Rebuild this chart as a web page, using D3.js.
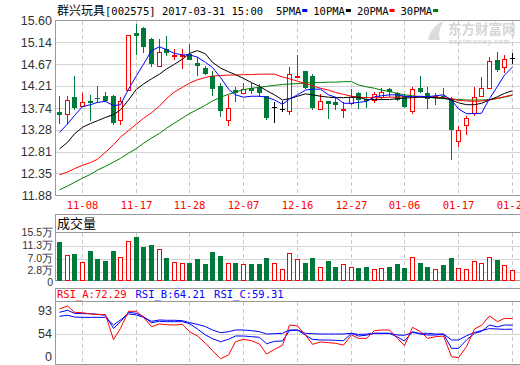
<!DOCTYPE html>
<html>
<head>
<meta charset="utf-8">
<script src="https://cdn.jsdelivr.net/npm/d3@7"></script>
<style>
  body { margin: 0; background: #fff; }
  svg { display: block; }
</style>
</head>
<body>
<div class="chart"></div>
<script>
// trading days shown (60 candles)
const dates = ["11-03","11-04","11-07","11-08","11-09","11-10","11-11","11-14","11-15","11-16",
  "11-17","11-18","11-21","11-22","11-23","11-24","11-25","11-28","11-29","11-30",
  "12-01","12-02","12-05","12-06","12-07","12-08","12-09","12-12","12-13","12-14",
  "12-15","12-16","12-19","12-20","12-21","12-22","12-23","12-26","12-27","12-28",
  "12-29","12-30","01-03","01-04","01-05","01-06","01-09","01-10","01-11","01-12",
  "01-13","01-16","01-17","01-18","01-19","01-20","01-23","01-24","01-25","01-26"];

const opens = [13.65,13.61,13.97,13.78,13.89,13.95,14.00,14.00,13.49,14.13,15.33,15.45,15.21,14.64,14.99,14.85,14.84,14.89,14.69,14.59,
  14.43,14.20,13.49,14.12,14.06,14.16,14.18,13.99,13.77,13.72,13.68,14.39,14.52,14.43,13.72,13.88,13.86,13.71,13.84,14.05,
  13.94,13.91,13.97,14.14,14.05,13.99,13.68,14.16,14.05,13.97,14.00,13.93,13.03,13.38,13.63,14.00,14.16,14.75,14.62,14.80];
const highs = [14.00,13.99,14.41,14.05,14.02,14.21,14.09,14.01,13.97,15.30,15.52,15.46,15.23,15.21,15.26,14.99,14.99,15.11,14.82,14.64,
  14.53,14.27,14.02,14.18,14.28,14.28,14.25,13.99,13.86,13.89,14.62,14.87,14.52,14.46,14.04,13.89,13.97,13.86,14.14,14.07,
  14.07,14.09,14.16,14.16,14.09,14.04,14.18,14.41,14.18,14.05,14.16,13.97,13.36,13.58,14.18,14.39,14.83,14.94,14.87,14.90];
const lows = [13.40,13.41,13.70,13.77,13.47,13.84,13.86,13.38,13.38,14.12,14.87,14.91,14.62,14.62,14.85,14.76,14.57,14.75,14.41,14.45,
  14.00,13.54,13.35,13.86,14.06,14.04,13.97,13.48,13.42,13.65,13.59,14.37,14.14,13.70,13.72,13.51,13.70,13.53,13.81,13.72,
  13.74,13.84,13.92,13.97,13.89,13.75,13.61,14.05,13.72,13.81,13.93,12.63,12.92,13.17,13.58,13.97,14.14,14.50,14.48,14.67];
const closes = [13.59,13.90,13.75,13.87,13.85,13.93,13.89,13.43,13.89,15.30,15.28,15.03,14.67,14.94,14.91,14.87,14.87,14.75,14.63,14.46,
  14.14,13.67,13.75,14.06,14.14,14.11,14.06,13.53,13.77,13.72,14.46,14.43,14.16,13.75,13.88,13.82,13.80,13.72,13.98,13.91,
  13.89,14.04,14.07,14.09,13.91,13.77,14.14,14.09,13.93,13.99,13.97,13.27,13.28,13.52,13.98,14.16,14.73,14.55,14.79,14.80];

// volume in 万 (10k)
const volumes = [12.4,8.1,8.6,5.9,9.4,6.8,6.2,9.4,7.7,12.9,14.0,10.7,11.5,10.3,7.2,5.9,5.5,5.6,6.8,5.2,
  9.1,7.8,5.8,5.6,5.2,5.2,5.2,7.2,5.5,3.8,8.8,6.8,5.5,7.2,4.5,6.3,4.2,5.2,4.2,3.9,
  4.2,3.6,4.1,4.2,5.2,3.9,7.7,5.8,4.2,3.8,4.9,7.4,4.1,3.8,6.4,5.8,7.7,6.5,5.1,3.5];

const ma5 = [13.22,13.40,13.58,13.77,13.81,13.86,13.88,13.79,13.81,14.14,14.43,14.67,14.96,15.04,14.98,14.90,14.87,14.87,14.82,14.71,
  14.60,14.39,14.14,14.02,13.97,13.99,13.99,13.97,13.91,13.82,13.93,14.02,14.12,14.14,14.14,14.02,13.97,13.84,13.84,13.86,
  13.88,13.98,14.00,14.02,14.02,13.99,13.98,13.99,13.98,14.00,14.02,13.91,13.72,13.62,13.62,13.63,13.94,14.20,14.44,14.61];
const ma10 = [12.87,13.01,13.19,13.33,13.41,13.47,13.54,13.60,13.70,13.91,14.14,14.25,14.36,14.46,14.57,14.67,14.78,14.90,14.96,14.89,
  14.71,14.59,14.51,14.45,14.37,14.28,14.20,14.11,14.02,13.91,13.94,13.99,14.04,14.02,13.99,13.97,13.96,13.96,13.97,13.97,
  13.92,13.92,13.92,13.92,13.94,13.95,13.96,13.97,13.97,13.96,13.95,13.91,13.85,13.81,13.81,13.84,13.91,13.98,14.05,14.11];
const ma20 = [12.32,12.38,12.45,12.52,12.58,12.65,12.80,12.96,13.12,13.26,13.40,13.52,13.64,13.78,13.94,14.08,14.18,14.27,14.34,14.39,
  14.42,14.43,14.44,14.44,14.45,14.45,14.46,14.46,14.46,14.40,14.36,14.31,14.26,14.21,14.16,14.12,14.07,14.03,13.99,13.97,
  13.96,13.96,13.96,13.97,13.97,13.98,13.98,13.98,13.97,13.97,13.96,13.94,13.90,13.89,13.88,13.89,13.91,13.95,13.98,14.02];
const ma30 = [12.00,12.08,12.16,12.25,12.33,12.42,12.50,12.59,12.67,12.78,12.88,12.99,13.10,13.20,13.31,13.42,13.53,13.62,13.71,13.80,
  13.89,13.97,14.03,14.08,14.13,14.16,14.18,14.20,14.22,14.24,14.25,14.26,14.27,14.28,14.28,14.29,14.29,14.30,14.30,14.23,
  14.19,14.16,14.12,14.09,14.05,14.02,14.00,13.98,13.97,13.95,13.94,13.93,13.92,13.91,13.91,13.91,13.92,13.94,13.97,14.01];

const rsiA = [84.1,87.7,80.0,79.5,77.9,77.5,77.1,43.0,60.3,81.2,81.2,73.8,62.4,65.7,64.8,64.4,65.2,56.2,49.6,36.6,
  23.6,9.4,15.9,39.5,43.6,41.3,35.4,17.6,26.0,33.0,64.4,63.2,51.3,34.8,39.0,37.8,36.6,33.6,51.3,45.4,
  45.4,57.5,58.3,58.3,45.4,32.4,61.6,56.2,45.4,48.4,49.6,13.0,11.2,30.7,59.5,64.0,75.5,68.5,72.6,72.29];
const rsiB = [80.0,82.5,78.7,78.3,78.3,77.5,76.3,60.3,68.5,80.0,78.7,74.6,67.3,68.9,68.5,68.5,68.5,66.1,59.5,51.3,
  44.8,39.5,43.6,49.6,49.6,48.4,47.2,35.9,40.1,40.7,57.5,58.3,51.0,43.6,42.5,42.5,41.9,41.3,54.2,49.5,
  51.0,54.2,54.2,54.2,47.7,40.7,56.2,53.0,51.3,51.3,53.0,27.7,27.7,42.5,54.2,56.6,64.4,62.1,64.4,64.21];
const rsiC = [75.1,76.4,74.2,73.8,73.8,73.8,73.8,64.4,70.6,78.0,76.7,73.8,68.9,70.6,70.2,70.2,69.7,67.3,65.2,62.4,
  58.3,55.0,56.2,58.3,58.3,57.5,56.2,53.1,53.7,54.2,58.3,58.3,54.2,53.7,53.1,53.1,53.1,53.1,54.2,52.4,
  53.0,54.2,54.2,54.2,51.3,50.8,55.2,54.2,54.2,53.1,53.0,42.5,42.5,50.0,55.2,57.6,60.0,59.5,59.1,59.31];

const priceTicks = [11.88, 12.35, 12.81, 13.28, 13.74, 14.21, 14.67, 15.14, 15.60];
const volTicks = [0, 2.8, 7.0, 11.3, 15.5];
const rsiTicks = [0, 54, 93];
const dateTicks = ["11-08","11-17","11-28","12-07","12-16","12-27","01-06","01-17","01-26"];
const maNames = ["5PMA", "10PMA", "20PMA", "30PMA"];

const W = 520, H = 365;
const RED = "#ff0000", GREEN = "#007a3a", GRID = "#d4d4d4", BORDER = "#9a9a9a";
const mono = "'DejaVu Sans Mono', 'Liberation Mono', monospace";
const cjk = "'Noto Sans CJK SC', 'Noto Sans', sans-serif";
const axisFont = "'Liberation Sans', Arial, sans-serif";

const svg = d3.select(".chart").append("svg")
    .attr("width", W).attr("height", H)
    .attr("viewBox", [0, 0, W, H]);

const idx = d3.range(dates.length);
const x = d3.scaleBand().domain(idx).range([55, 515.8]).paddingInner(0.3).paddingOuter(0.15);
const xc = i => Math.round(x(i) + x.bandwidth() / 2);

// panel geometry
const main = {top: 20.5, bottom: 195.5};
const vol = {top: 214.5, head: 232.5, bottom: 280.5};
const rsi = {top: 288.5, head: 301.5, bottom: 364.5};
const left = 55.5, right = 530;

const y = d3.scaleLinear().domain([11.88, 15.60]).range([main.bottom, main.top]);
const yv = d3.scaleLinear().domain([0, 15.5]).range([vol.bottom, vol.head]);
const yr = d3.scaleLinear().domain([0, 54, 93]).range([364, 333.5, 301.7]);
const py = v => Math.round(y(v)) + 0.5;

const tickIdx = dateTicks.map(d => dates.indexOf(d));

// ---- header
const title = svg.append("text").attr("x", 57).attr("y", 14.5).attr("fill", "#000");
title.append("tspan").attr("font-family", cjk).attr("font-size", 12).text("群兴玩具");
title.append("tspan").attr("font-family", mono).attr("font-size", 10.5).text("[002575] 2017-03-31 15:00");

const maColors = ["#0000ff", "#000000", RED, "#008000"];
let lx = 276;
maNames.forEach((n, k) => {
  const t = svg.append("text").attr("x", lx).attr("y", 14.5)
      .attr("font-family", mono).attr("font-size", 10.5).attr("fill", "#000").text(n);
  const w = t.node().getComputedTextLength();
  svg.append("rect").attr("x", lx + w + 1).attr("y", 9).attr("width", 5).attr("height", 3)
      .attr("fill", maColors[k]);
  lx += w + 12;
});

// watermark
svg.append("text").attr("x", 448).attr("y", 33.5).attr("font-family", cjk).attr("font-weight", "bold")
    .attr("font-size", 13.5).attr("fill", "#d6d6d6").text("东方财富网");
svg.append("text").attr("x", 449).attr("y", 44).attr("font-family", axisFont).attr("font-weight", "bold")
    .attr("font-size", 7).attr("fill", "#d6d6d6").attr("letter-spacing", 0.7).text("eastmoney.com");
svg.append("path").attr("d", "M428,40 C430,30 436,24 444,21 C440,27 438,33 440,40 Z").attr("fill", "#dcdcdc");

// ---- main price panel
const g = svg.append("g").attr("shape-rendering", "crispEdges");
g.selectAll(".hgrid").data(priceTicks.slice(1, -1)).join("line")
    .attr("x1", left).attr("x2", right)
    .attr("y1", d => py(d)).attr("y2", d => py(d))
    .attr("stroke", GRID);

function vgrid(top, bottom) {
  g.append("g").selectAll("line").data(tickIdx).join("line")
      .attr("x1", i => xc(i) + 0.5).attr("x2", i => xc(i) + 0.5)
      .attr("y1", top).attr("y2", bottom)
      .attr("stroke", "#c8c8c8").attr("stroke-dasharray", "4,3");
}
vgrid(main.top, main.bottom);

g.append("rect").attr("x", left).attr("y", main.top).attr("width", right - left)
    .attr("height", main.bottom - main.top).attr("fill", "none").attr("stroke", BORDER);

svg.append("g").selectAll("text").data(priceTicks).join("text")
    .attr("x", 52).attr("y", d => y(d)).attr("dy", "0.36em")
    .attr("text-anchor", "end").attr("font-family", axisFont).attr("font-size", 12.5)
    .attr("fill", "#333").text(d => d.toFixed(2));

// last date label is clipped by the right edge, as in the original
svg.append("g").selectAll("text").data(tickIdx).join("text")
    .attr("x", i => xc(i) + 0.5).attr("y", 208.5).attr("text-anchor", "middle")
    .attr("font-family", mono).attr("font-size", 10.5).attr("fill", RED)
    .text(i => dates[i]);

// candles
const candle = g.append("g").selectAll("g").data(idx).join("g");
const kind = i => closes[i] > opens[i] ? "up" : closes[i] < opens[i] ? "down" : "flat";
const kcol = i => kind(i) === "up" ? RED : kind(i) === "down" ? GREEN : "#000";

candle.each(function(i) {
  const c = d3.select(this), cx = xc(i);
  const top = Math.round(y(Math.max(opens[i], closes[i])));
  const bot = Math.round(y(Math.min(opens[i], closes[i])));
  const hi = Math.round(y(highs[i])), lo = Math.round(y(lows[i]));
  const col = kcol(i);
  if (kind(i) === "up") {
    c.append("line").attr("x1", cx + 0.5).attr("x2", cx + 0.5).attr("y1", hi).attr("y2", top).attr("stroke", col);
    c.append("line").attr("x1", cx + 0.5).attr("x2", cx + 0.5).attr("y1", bot).attr("y2", lo).attr("stroke", col);
    c.append("rect").attr("x", cx - 1.5).attr("y", top + 0.5).attr("width", 4)
        .attr("height", Math.max(bot - top, 1)).attr("fill", "#fff").attr("stroke", col);
  } else if (kind(i) === "down") {
    c.append("line").attr("x1", cx + 0.5).attr("x2", cx + 0.5).attr("y1", hi).attr("y2", lo).attr("stroke", col);
    c.append("rect").attr("x", cx - 2).attr("y", top).attr("width", 5)
        .attr("height", Math.max(bot - top, 1)).attr("fill", col);
  } else {
    c.append("line").attr("x1", cx + 0.5).attr("x2", cx + 0.5).attr("y1", hi).attr("y2", lo).attr("stroke", col);
    c.append("line").attr("x1", cx - 2).attr("x2", cx + 3).attr("y1", top + 0.5).attr("y2", top + 0.5).attr("stroke", col);
  }
});

// moving averages
const maLine = d3.line().x((d, i) => xc(i) + 0.5).y(d => y(d));
[ma30, ma20, ma10, ma5].forEach((s, k) => {
  svg.append("path").datum(s).attr("d", maLine).attr("fill", "none")
      .attr("stroke", maColors[3 - k]).attr("stroke-width", 1);
});

// ---- volume panel
g.selectAll(".vgridh").data(volTicks.slice(1, -1)).join("line")
    .attr("x1", left).attr("x2", right)
    .attr("y1", d => Math.round(yv(d)) + 0.5).attr("y2", d => Math.round(yv(d)) + 0.5)
    .attr("stroke", GRID);
vgrid(vol.head, vol.bottom);
g.append("rect").attr("x", left).attr("y", vol.top).attr("width", right - left)
    .attr("height", vol.bottom - vol.top).attr("fill", "none").attr("stroke", BORDER);
g.append("line").attr("x1", left).attr("x2", right).attr("y1", vol.head).attr("y2", vol.head).attr("stroke", BORDER);

svg.append("text").attr("x", 57).attr("y", 228).attr("font-family", cjk).attr("font-size", 13)
    .attr("fill", "#000").text("成交量");

// labels sit close together near the bottom; nudge the lowest two apart a little
svg.append("g").selectAll("text").data(volTicks).join("text")
    .attr("x", 53).attr("y", d => d === 0 ? yv(d) + 1.5 : d === 2.8 ? yv(d) - 1.5 : yv(d) - 0.5)
    .attr("dy", "0.36em")
    .attr("text-anchor", "end").attr("font-family", axisFont).attr("font-size", 10.5)
    .attr("fill", "#333")
    .text(d => d === 0 ? "0" : d.toFixed(1) + "万");

g.append("g").selectAll("rect").data(idx).join("rect")
    .attr("x", i => closes[i] >= opens[i] ? xc(i) - 1.5 : xc(i) - 2)
    .attr("y", i => Math.round(yv(volumes[i])) + (closes[i] >= opens[i] ? 0.5 : 0))
    .attr("width", i => closes[i] >= opens[i] ? 4 : 5)
    .attr("height", i => Math.round(yv(0)) - Math.round(yv(volumes[i])) - (closes[i] >= opens[i] ? 1 : 0))
    .attr("fill", i => closes[i] >= opens[i] ? "#fff" : GREEN)
    .attr("stroke", i => closes[i] >= opens[i] ? RED : "none");

// ---- RSI panel
g.append("line").attr("x1", left).attr("x2", right)
    .attr("y1", Math.round(yr(54)) + 0.5).attr("y2", Math.round(yr(54)) + 0.5).attr("stroke", GRID);
vgrid(rsi.head, rsi.bottom);
g.append("rect").attr("x", left).attr("y", rsi.top).attr("width", right - left)
    .attr("height", rsi.bottom - rsi.top).attr("fill", "none").attr("stroke", BORDER);
g.append("line").attr("x1", left).attr("x2", right).attr("y1", rsi.head).attr("y2", rsi.head).attr("stroke", BORDER);

const rt = svg.append("text").attr("x", 57).attr("y", 297.5).attr("font-family", mono).attr("font-size", 10.5);
rt.append("tspan").attr("fill", RED).text("RSI_A:" + rsiA[rsiA.length - 1].toFixed(2));
rt.append("tspan").attr("fill", "#0000ff").attr("dx", 9).text("RSI_B:" + rsiB[rsiB.length - 1].toFixed(2));
rt.append("tspan").attr("fill", "#0000ff").attr("dx", 9).text("RSI_C:" + rsiC[rsiC.length - 1].toFixed(2));

svg.append("g").selectAll("text").data(rsiTicks).join("text")
    .attr("x", 52).attr("y", d => Math.min(Math.max(yr(d), 310), 356)).attr("dy", "0.36em")
    .attr("text-anchor", "end").attr("font-family", axisFont).attr("font-size", 12.5)
    .attr("fill", "#333").text(d => d);

const rLine = d3.line().x((d, i) => xc(i) + 0.5).y(d => yr(d));
[[rsiC, "#0000ff"], [rsiB, "#0000ff"], [rsiA, RED]].forEach(([s, c]) => {
  svg.append("path").datum(s).attr("d", rLine).attr("fill", "none").attr("stroke", c).attr("stroke-width", 1);
});
</script>
</body>
</html>
